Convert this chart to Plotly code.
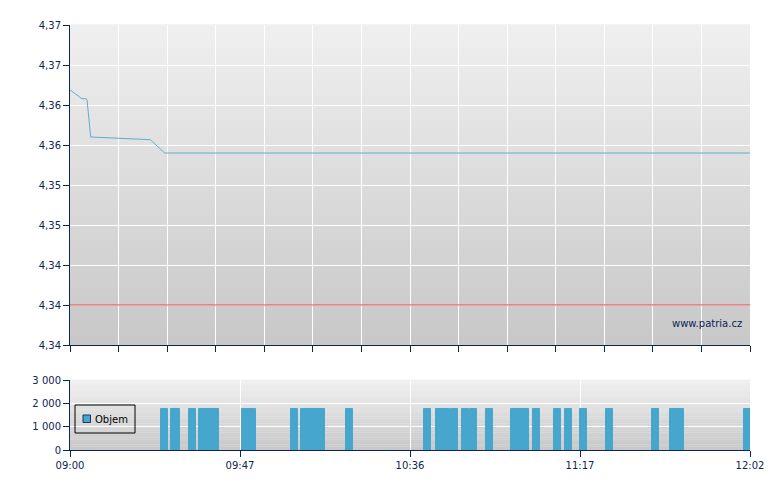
import plotly.graph_objects as go

# ---------------- data ----------------
# x positions are on an index scale 0..140 (14 grid steps of 10)
price_x = [0, 1.38, 2.06, 2.47, 3.29, 3.5, 4.26, 16.53, 19.5, 140]
price_y = [4.3642, 4.3636, 4.3634, 4.3632, 4.3632, 4.3631, 4.3589, 4.3586, 4.3571, 4.3571]

prev_close = 4.34

vol_x = [19.35, 21.41, 21.82, 25.12, 27.18, 28.62, 29.85, 36.03, 37.47, 46.12,
         48.18, 49.41, 50.44, 51.68, 57.44, 73.50, 75.97, 77.41, 79.06, 81.32,
         82.97, 86.26, 91.41, 92.65, 93.68, 95.94, 100.26, 102.53, 105.62, 110.97,
         120.44, 124.15, 125.59, 139.38]
vol_y = [1780] * len(vol_x)

price_tickvals = [4.3355, 4.34, 4.3445, 4.349, 4.3535, 4.358, 4.3625, 4.367, 4.3715]
price_ticktext = ["4,34", "4,34", "4,34", "4,35", "4,35", "4,36", "4,36", "4,37", "4,37"]

vol_tickvals = [0, 1000, 2000, 3000]
vol_ticktext = ["0", "1 000", "2 000", "3 000"]

time_tickvals = [0, 35, 70, 105, 140]
time_ticktext = ["09:00", "09:47", "10:36", "11:17", "12:02"]

series_name = "Objem"

# ---------------- style ----------------
NAVY = "#0d2455"
FONT = "DejaVu Sans, Verdana, sans-serif"
BAR = "#46a6ce"
LINE = "#62aad2"

PW, PH = 680.0, 425.0  # plot area size in px


def px_x(px):  # window px -> paper x
    return (px - 70) / PW


def px_y(py):  # window px -> paper y
    return (450 - py) / PH


fig = go.Figure()

fig.add_trace(go.Scatter(x=price_x, y=price_y, mode="lines",
                         line=dict(color=LINE, width=1), showlegend=False,
                         xaxis="x", yaxis="y", hoverinfo="skip"))
fig.add_trace(go.Scatter(x=[0, 140], y=[prev_close, prev_close], mode="lines",
                         line=dict(color="#e04646", width=1), showlegend=False,
                         xaxis="x", yaxis="y", hoverinfo="skip"))
fig.add_trace(go.Bar(x=vol_x, y=vol_y, width=1.44, name=series_name,
                     marker=dict(color=BAR, line=dict(width=1, color=BAR), opacity=1),
                     showlegend=False, xaxis="x2", yaxis="y2"))

# gradient backgrounds
shapes = []


def gradient(xd, yd, n=40, top=(239, 239, 239), bot=(200, 200, 200)):
    for i in range(n):
        t = (i + 0.5) / n
        c = tuple(round(bot[k] + (top[k] - bot[k]) * t) for k in range(3))
        shapes.append(dict(type="rect", xref=xd, yref=yd, x0=0, x1=1,
                           y0=i / n, y1=(i + 1) / n + 0.002, layer="below",
                           fillcolor="rgb(%d,%d,%d)" % c, line=dict(width=0)))


gradient("x domain", "y domain")
gradient("x2 domain", "y2 domain")

# manual legend box
shapes.append(dict(type="rect", xref="paper", yref="paper",
                   x0=px_x(75), x1=px_x(135), y0=px_y(433), y1=px_y(405),
                   line=dict(color="black", width=1), fillcolor="rgba(0,0,0,0)",
                   layer="above"))
shapes.append(dict(type="rect", xref="paper", yref="paper",
                   x0=px_x(83), x1=px_x(90.5), y0=px_y(422.5), y1=px_y(415),
                   line=dict(color="#1c3550", width=1), fillcolor=BAR,
                   layer="above"))

axis_common = dict(showline=True, linecolor=NAVY, linewidth=1, ticks="outside",
                   tickcolor=NAVY, ticklen=6, tickwidth=1,
                   tickfont=dict(family=FONT, size=10, color=NAVY),
                   gridcolor="white", gridwidth=1, zeroline=False)

fig.update_layout(
    width=780, height=490,
    margin=dict(l=62, r=38, t=17, b=48),
    paper_bgcolor="white", plot_bgcolor="rgba(0,0,0,0)",
    barmode="overlay",
    shapes=shapes,
    xaxis=dict(axis_common, domain=[0, 1], anchor="y", range=[0, 140],
               tickmode="linear", tick0=0, dtick=10, showticklabels=False),
    yaxis=dict(axis_common, domain=[105 / PH, 1], anchor="x",
               range=[4.3355, 4.3715], tickmode="array",
               tickvals=price_tickvals, ticktext=price_ticktext),
    xaxis2=dict(axis_common, domain=[0, 1], anchor="y2", range=[0, 140],
                tickmode="array", tickvals=time_tickvals, ticktext=time_ticktext),
    yaxis2=dict(axis_common, domain=[0, 70 / PH], anchor="x2",
                range=[0, 3000], tickmode="array",
                tickvals=vol_tickvals, ticktext=vol_ticktext),
    annotations=[
        dict(text="www.patria.cz", xref="paper", yref="paper",
             x=px_x(744), y=px_y(323), xanchor="right", yanchor="middle",
             showarrow=False, font=dict(family=FONT, size=10, color=NAVY)),
        dict(text=series_name, xref="paper", yref="paper",
             x=px_x(93), y=px_y(419.5), xanchor="left", yanchor="middle",
             showarrow=False, font=dict(family=FONT, size=10, color="black")),
    ],
    showlegend=False,
)

fig.write_html("out.html")
